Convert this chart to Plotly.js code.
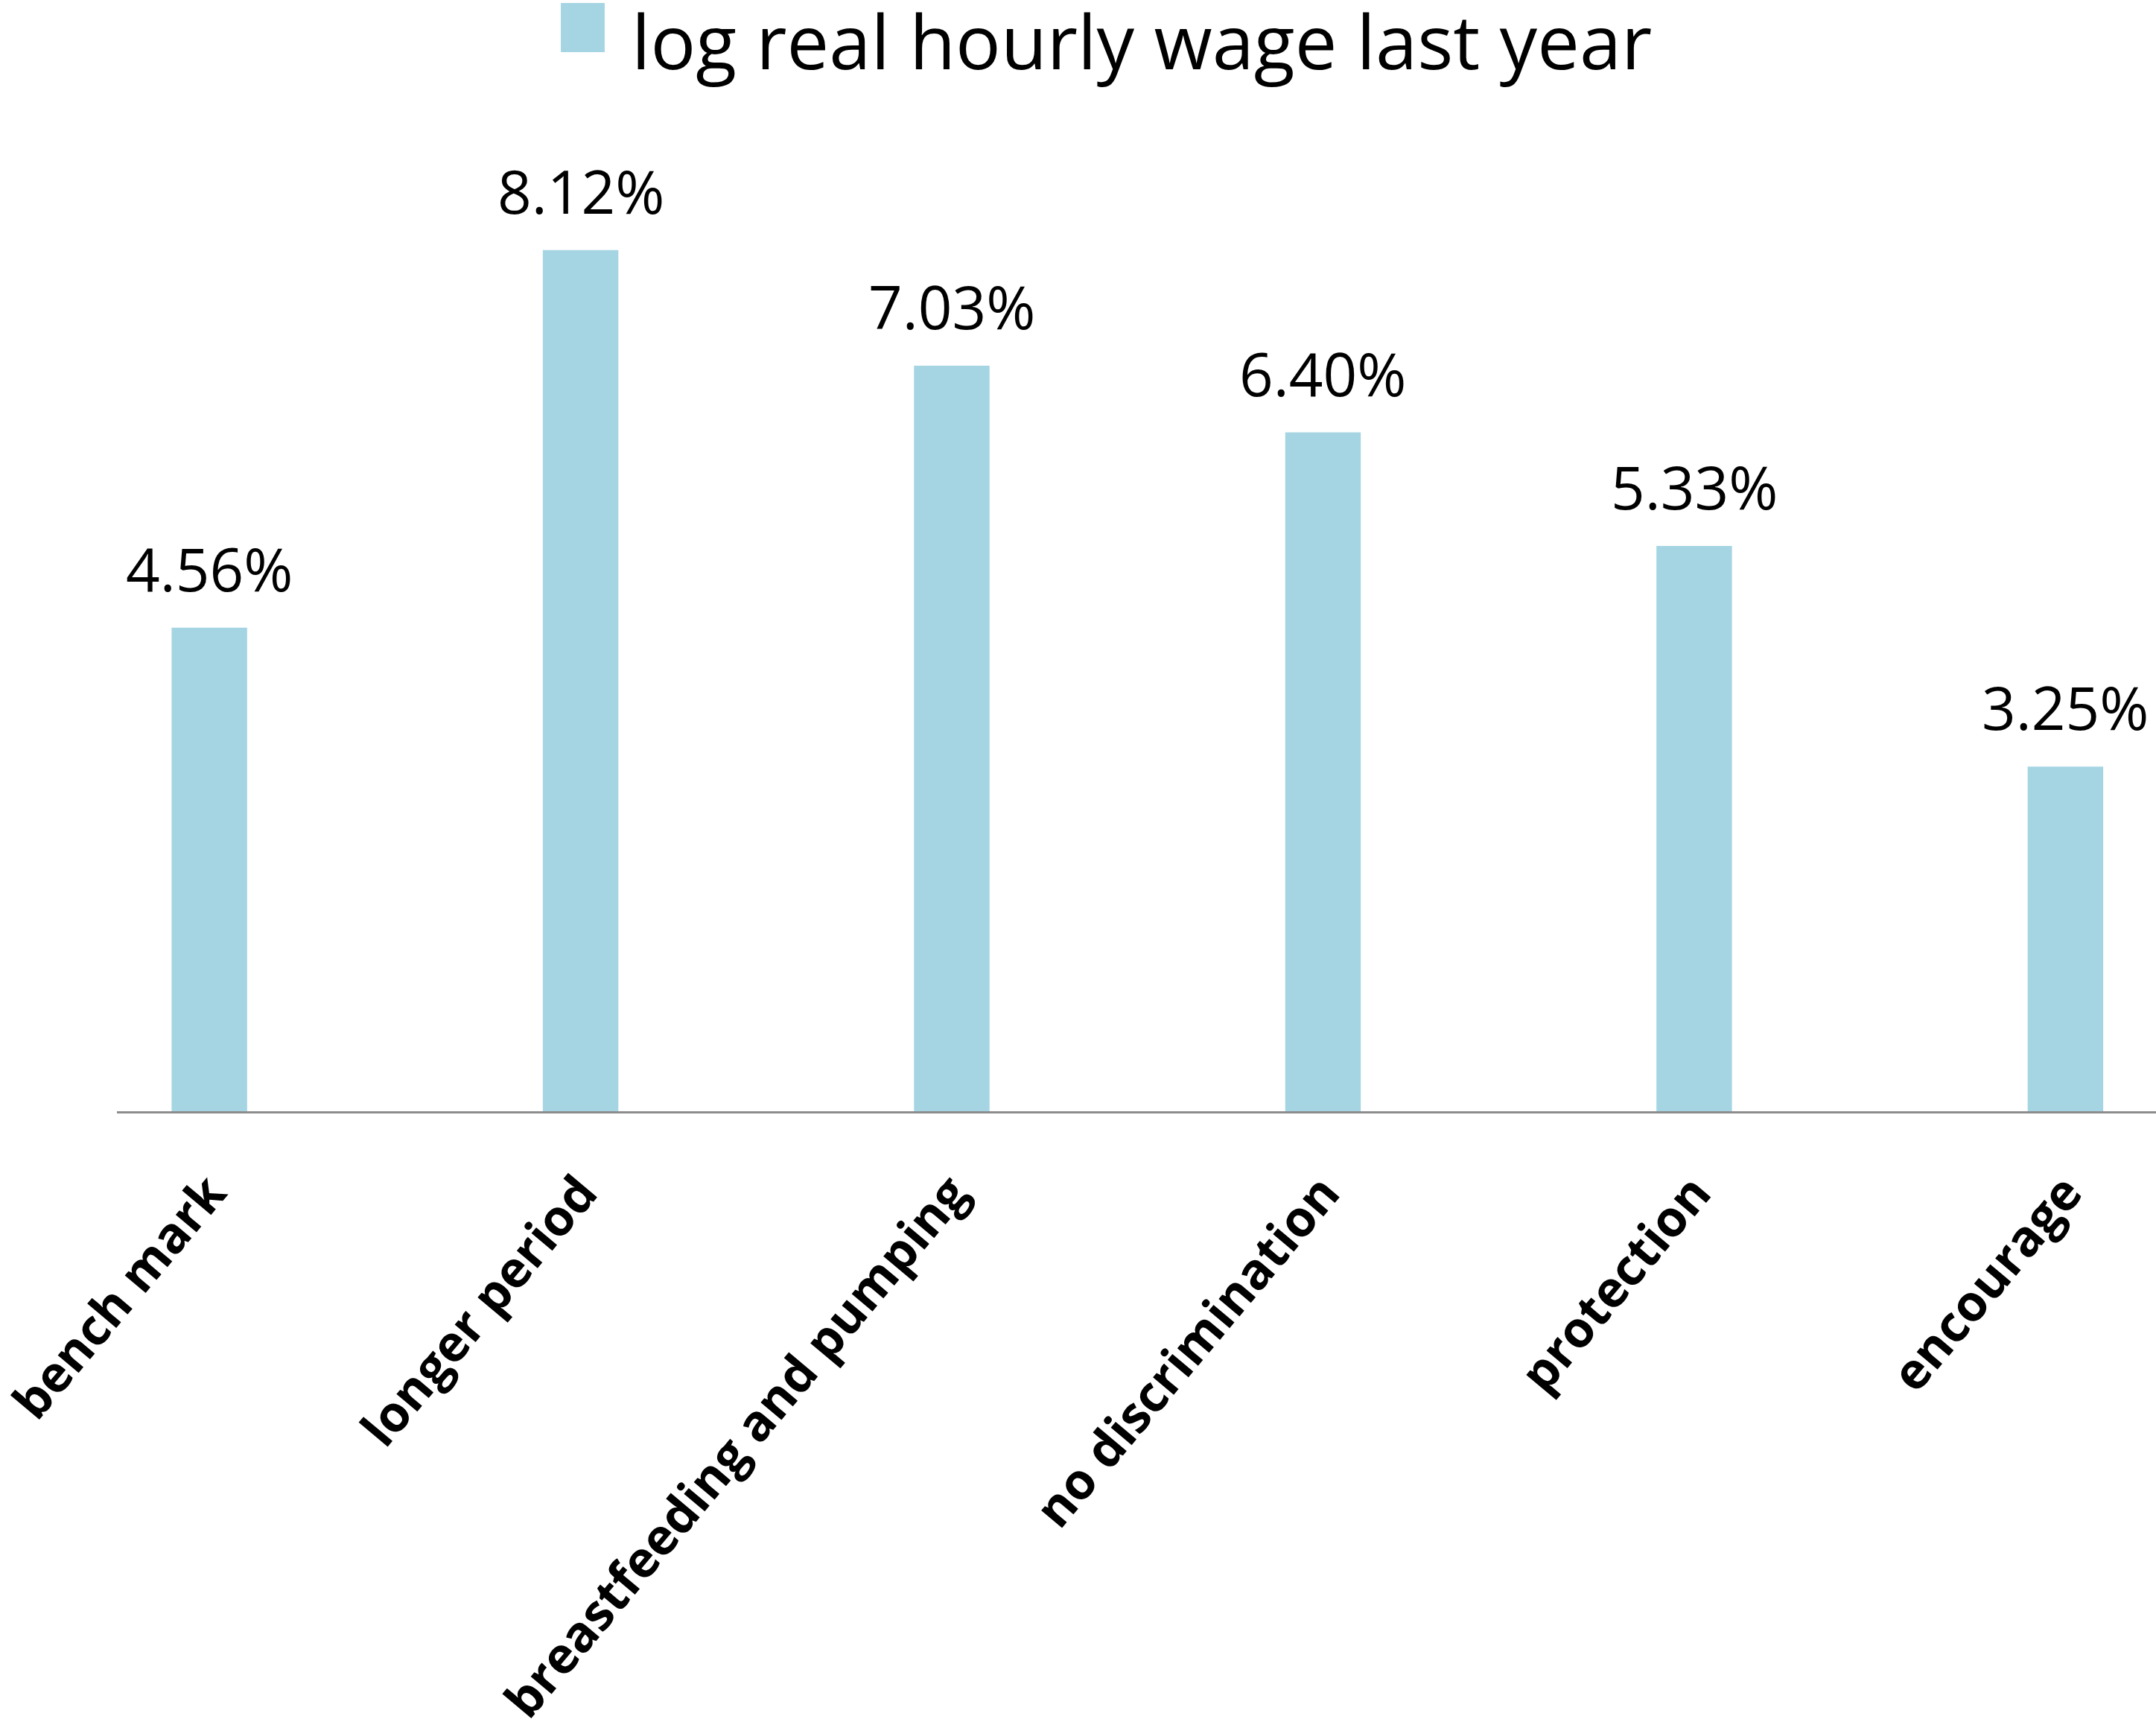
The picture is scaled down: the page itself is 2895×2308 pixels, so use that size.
<!DOCTYPE html>
<html>
<head>
<meta charset="utf-8">
<script src="https://cdn.plot.ly/plotly-3.0.1.min.js"></script>
<style>html,body{margin:0;padding:0;background:#fff;}</style>
</head>
<body>
<div id="chart" style="width:2895px;height:2308px;"></div>
<script>
const categories = ["bench mark", "longer period", "breastfeeding and pumping", "no discrimination", "protection", "encourage"];
const values = [0.0456, 0.0812, 0.0703, 0.0640, 0.0533, 0.0325];
const seriesName = "log real hourly wage last year";
const barColor = "#A5D5E3";

const trace = {
  type: "bar",
  x: categories,
  y: values,
  name: seriesName,
  width: 0.2035,
  marker: {color: barColor},
  cliponaxis: false,
  hoverinfo: "skip",
  showlegend: false
};

const labelAnnotations = categories.map((c, i) => ({
  x: c, y: values[i], xref: "x", yref: "y",
  text: (values[i] * 100).toFixed(2) + "%",
  showarrow: false, yanchor: "bottom", xanchor: "center", yshift: 24,
  font: {family: "Open Sans", size: 80, color: "#000"}
}));

const layout = {
  width: 2895, height: 2308, autosize: false,
  margin: {l: 157, r: 0, t: 100, b: 816, pad: 0},
  paper_bgcolor: "#fff", plot_bgcolor: "#fff",
  showlegend: false,
  font: {family: "Open Sans", color: "#000"},
  xaxis: {
    type: "category", range: [-0.249, 5.244],
    showline: true, linecolor: "#8c8c8c", linewidth: 3,
    showgrid: false, zeroline: false, ticks: "",
    tickangle: -50, ticklabelstandoff: 40,
    tickfont: {family: "Open Sans", size: 67, color: "#000", weight: "bold"}
  },
  yaxis: {
    range: [0, 0.09775], visible: false, showgrid: false, zeroline: false
  },
  shapes: [{
    type: "rect", xref: "paper", yref: "paper",
    x0: 0.2177, x1: 0.2392, y0: 1.0216, y1: 1.0690,
    fillcolor: barColor, line: {width: 0}
  }],
  annotations: labelAnnotations.concat([{
    xref: "paper", yref: "paper", x: 0.2516, y: 1.033,
    xanchor: "left", yanchor: "middle", showarrow: false,
    text: seriesName,
    font: {family: "Open Sans", size: 101, color: "#000"}
  }])
};

Plotly.newPlot("chart", [trace], layout, {displayModeBar: false, staticPlot: true});
</script>
</body>
</html>
